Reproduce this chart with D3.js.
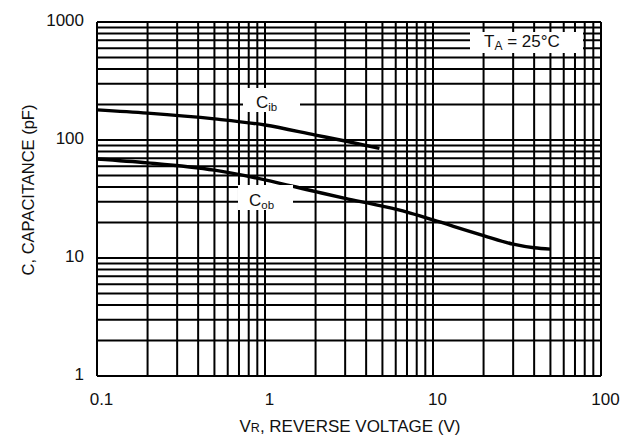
<!DOCTYPE html>
<html>
<head>
<meta charset="utf-8">
<script src="https://cdn.jsdelivr.net/npm/d3@7/dist/d3.min.js"></script>
<style>
  html, body { margin: 0; padding: 0; background: #fff; }
  svg { display: block; }
  text { font-family: "Liberation Sans", Arial, sans-serif; fill: #111; }
</style>
</head>
<body>
<svg id="chart" width="636" height="439"></svg>
<script>
// ---- data ----
const xTickValues = [0.1, 1, 10, 100];
const xTickLabels = ["0.1", "1", "10", "100"];
const yTickValues = [1, 10, 100, 1000];
const yTickLabels = ["1", "10", "100", "1000"];

const cibVoltage = [0.1, 0.2, 0.5, 1, 2, 3, 4.8];
const cibCapacitance = [180, 169, 151, 134, 110, 98, 85];

const cobVoltage = [0.1, 0.2, 0.5, 1, 2, 3, 5, 7, 10, 20, 30, 40, 50];
const cobCapacitance = [69, 64, 55.5, 46, 36.5, 32, 27.5, 24.5, 21, 15.5, 13.1, 12.2, 11.9];

const xTitle = ", REVERSE VOLTAGE (V)";
const yTitle = "C, CAPACITANCE (pF)";

// ---- layout ----
const svg = d3.select("#chart");
const pLeft = 97, pRight = 601, pTop = 22, pBottom = 376;

const x = d3.scaleLog().domain([0.1, 100]).range([pLeft, pRight]);
const y = d3.scaleLog().domain([1, 1000]).range([pBottom, pTop]);

svg.append("rect").attr("width", 636).attr("height", 439).attr("fill", "#fff");

// grid
const g = svg.append("g");
g.selectAll("line.vx").data(x.ticks()).join("line")
  .attr("x1", d => x(d)).attr("x2", d => x(d))
  .attr("y1", pTop).attr("y2", pBottom)
  .attr("stroke", "#000").attr("stroke-width", 2);
g.selectAll("line.hy").data(y.ticks()).join("line")
  .attr("y1", d => y(d)).attr("y2", d => y(d))
  .attr("x1", pLeft).attr("x2", pRight)
  .attr("stroke", "#000").attr("stroke-width", 2);

// curves
const line = d3.line().x(d => x(d[0])).y(d => y(d[1])).curve(d3.curveMonotoneX);
svg.append("path").datum(d3.zip(cibVoltage, cibCapacitance))
  .attr("d", line).attr("fill", "none").attr("stroke", "#000").attr("stroke-width", 3.4);
svg.append("path").datum(d3.zip(cobVoltage, cobCapacitance))
  .attr("d", line).attr("fill", "none").attr("stroke", "#000").attr("stroke-width", 3.4);

// labels with white boxes
function boxLabel(bx, by, bw, bh) {
  svg.append("rect").attr("x", bx).attr("y", by).attr("width", bw).attr("height", bh).attr("fill", "#fff");
}
boxLabel(243, 88, 57, 24);
const t1 = svg.append("text").attr("x", 256).attr("y", 108).attr("font-size", 17);
t1.append("tspan").text("C");
t1.append("tspan").attr("font-size", 11.5).attr("dy", 3).text("ib");

boxLabel(238, 185, 55, 25);
const t2 = svg.append("text").attr("x", 249).attr("y", 206).attr("font-size", 17);
t2.append("tspan").text("C");
t2.append("tspan").attr("font-size", 11.5).attr("dy", 3).text("ob");

boxLabel(470, 32, 113, 21);
const t3 = svg.append("text").attr("x", 484).attr("y", 47).attr("font-size", 17);
t3.append("tspan").text("T");
t3.append("tspan").attr("font-size", 12).attr("dy", 3).text("A");
t3.append("tspan").attr("dy", -3).text(" = 25°C");

// axes (labels only)
const xAxis = d3.axisBottom(x).tickValues(xTickValues)
  .tickFormat((d, i) => xTickLabels[i]).tickSize(0).tickPadding(0);
const xg = svg.append("g").attr("transform", `translate(4,${pBottom + 17})`).call(xAxis);
xg.select(".domain").remove();
xg.selectAll("text").attr("font-size", 17).attr("font-family", "Liberation Sans, Arial, sans-serif").attr("fill", "#111");

const yAxis = d3.axisLeft(y).tickValues(yTickValues)
  .tickFormat((d, i) => yTickLabels[i]).tickSize(0).tickPadding(0);
const yg = svg.append("g").attr("transform", `translate(84,-2)`).call(yAxis);
yg.select(".domain").remove();
yg.selectAll("text").attr("font-size", 17).attr("font-family", "Liberation Sans, Arial, sans-serif").attr("fill", "#111");

// axis titles
const xt = svg.append("text").attr("x", 350).attr("y", 432).attr("text-anchor", "middle").attr("font-size", 17);
xt.append("tspan").text("V");
xt.append("tspan").attr("font-size", 12.5).text("R");
xt.append("tspan").text(xTitle);

svg.append("text").attr("transform", "translate(34,190) rotate(-90)")
  .attr("text-anchor", "middle").attr("font-size", 16.5).text(yTitle);
</script>
</body>
</html>
